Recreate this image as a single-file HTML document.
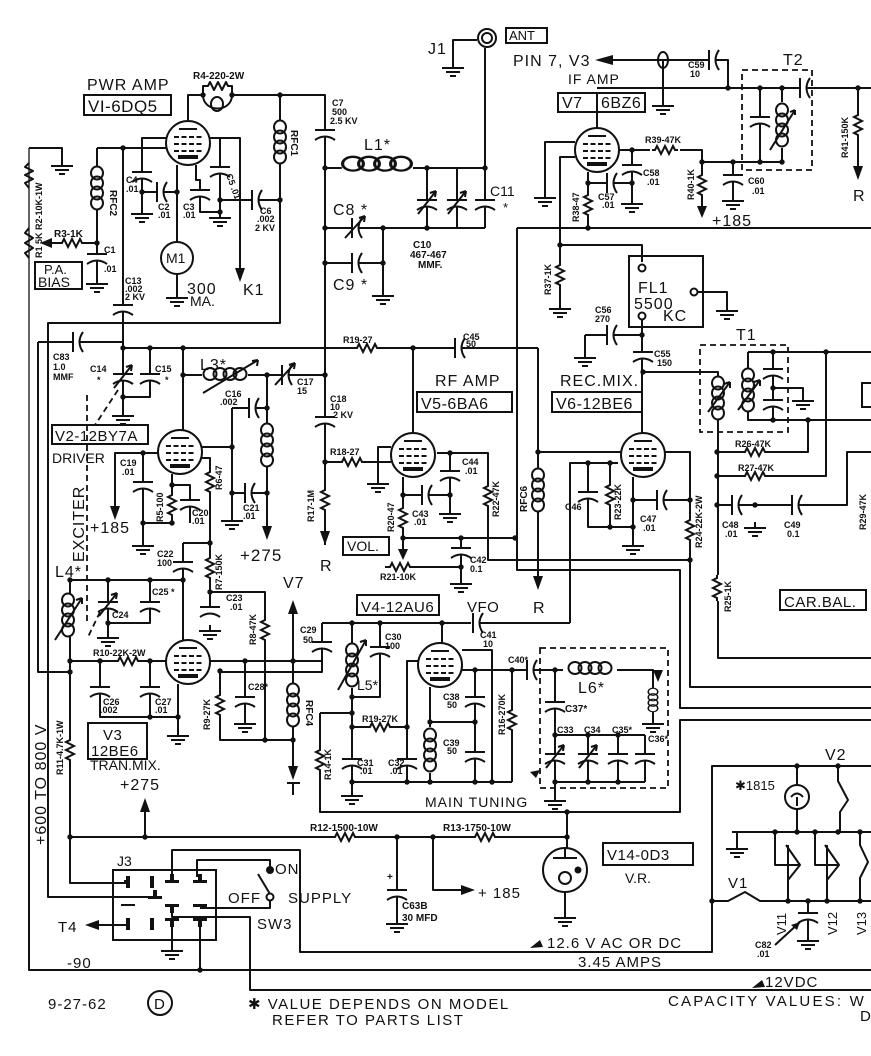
<!DOCTYPE html>
<html><head><meta charset="utf-8">
<style>
html,body{margin:0;padding:0;background:#fff}
svg{display:block}
text{font-family:"Liberation Sans",sans-serif;fill:#111}
.L{font-size:16px;letter-spacing:1px}
.B{font-size:16px;letter-spacing:.5px}
.M{font-size:13px}
.S{font-size:9px;font-weight:bold}
.T{font-size:10px;font-weight:bold}
</style></head>
<body>
<svg width="871" height="1056" viewBox="0 0 871 1056" xmlns="http://www.w3.org/2000/svg">
<defs>
 <g id="gnd"><path d="M0,0V6M-11,6H11M-7,10H7M-3,14H3"/></g>
 <g id="rh"><rect x="-13" y="-5" width="26" height="10" fill="#fff" stroke="none"/><path d="M-13,0H-10L-8,-4L-4,4L0,-4L4,4L8,-4L10,0H13"/></g>
 <g id="rv"><rect x="-5" y="-13" width="10" height="26" fill="#fff" stroke="none"/><path d="M0,-13V-10L-4,-8L4,-4L-4,0L4,4L-4,8L0,10V13"/></g>
 <g id="cv"><rect x="-11" y="-3" width="22" height="6.5" fill="#fff" stroke="none"/><path d="M-10,-3H10M-10,7Q0,0 10,7"/></g>
 <g id="ch"><rect x="-3" y="-11" width="6.5" height="22" fill="#fff" stroke="none"/><path d="M-3,-10V10M7,-10Q0,0 7,10"/></g>
 <g id="cvv"><use href="#cv"/><path d="M-9,11L9,-12M9,-12l-6,2M9,-12l-1,6"/></g>
 <g id="chv"><use href="#ch"/><path d="M-10,10L10,-12M10,-12l-6,2M10,-12l-1,6"/></g>
 <g id="lv"><rect x="-8" y="-22" width="16" height="44" fill="#fff" stroke="none"/><ellipse cx="0" cy="-15" rx="6" ry="6.5"/><ellipse cx="0" cy="-5" rx="6" ry="6.5"/><ellipse cx="0" cy="5" rx="6" ry="6.5"/><ellipse cx="0" cy="15" rx="6" ry="6.5"/></g>
 <g id="lh"><rect x="-22" y="-9" width="44" height="13" fill="#fff" stroke="none"/><ellipse cx="-15" cy="-2" rx="6.5" ry="6"/><ellipse cx="-5" cy="-2" rx="6.5" ry="6"/><ellipse cx="5" cy="-2" rx="6.5" ry="6"/><ellipse cx="15" cy="-2" rx="6.5" ry="6"/></g>
 <g id="tube"><circle r="22" fill="#fff"/><path d="M-9,-14H9"/><path d="M-14,-6H14M-14,1H14M-14,8H14" stroke-dasharray="5,2.5"/><path d="M-10,14H10" stroke-width="4"/></g>
 <circle id="d" r="2.7" fill="#111" stroke="none"/>
</defs>

<!-- WIRES -->
<g stroke="#111" stroke-width="2" fill="none" stroke-linejoin="round">
 <!-- PWR AMP -->
 <path d="M188,121V95H203"/>
 <path d="M203,95V86H208l2,-4l4,8l4,-8l4,8l4,-8l2,4H232V95"/>
 <path d="M203,95C203,113 232,113 232,95"/>
 <ellipse cx="217" cy="104" rx="6" ry="7"/>
 <path d="M232,95H325V545"/>
 <path d="M280,95V120M280,164V323H48V897H155"/>
 <path d="M97,148H166M97,148V166M97,210V278"/>
 <path d="M48,243H97"/>
 <path d="M166,138H142V208M142,192H177"/>
 <path d="M177,165V242M177,274V292"/>
 <path d="M196,165V180H200V212H220"/>
 <path d="M210,138H240V268M220,138V212M220,200H280"/>
 <path d="M29,148H62V160"/>
 <path d="M123,148V348"/>
 <!-- L1 / C8..C11 / ANT -->
 <path d="M325,168H342M413,168H485"/>
 <path d="M325,228H485M325,263H383M383,228V290"/>
 <path d="M427,168V228M457,168V228M485,168V228"/>
 <path d="M485,168V48M453,62V40H477"/>
 <!-- IF AMP -->
 <path d="M613,60H708M716,60H728V88M663,60V100"/>
 <path d="M597,88H871M597,112V128"/>
 <path d="M760,88V162M782,88V102M782,148V162M700,162H783"/>
 <path d="M858,88V166"/>
 <path d="M575,142H545V192M575,157H560V245H642V262"/>
 <path d="M619,150H650M680,150H702V207"/>
 <path d="M632,150V198M588,172V228M588,183H632M733,162V195"/>
 <path d="M517,228H871M517,228V570H680V708H871"/>
 <path d="M871,720H680V812H567"/>
 <path d="M560,245V303M698,292H727V305"/>
 <path d="M642,320V433M585,335H642M585,335V352"/>
 <!-- T1 -->
 <path d="M643,372H718V376M718,420V658H871"/>
 <path d="M748,352H871M748,352V368M748,412V420H871"/>
 <path d="M773,352V420M773,388H803V395"/>
 <path d="M717,452H808V420M717,476H826V352M717,505H847V452H871"/>
 <!-- REC MIX -->
 <path d="M621,452H538M538,348V468M538,512V578"/>
 <path d="M618,463H570V623M588,463V527H633M610,463V527"/>
 <path d="M633,477V540M633,500H690M665,452H690V687H871"/>
 <path d="M403,538H517"/>
 <!-- RF AMP -->
 <path d="M413,348V433M391,447H378V478M323,462H391"/>
 <path d="M403,477V538M403,495H450M437,453H488V560H690M450,453V512"/>
 <path d="M403,538V552M385,567H461M461,538V578"/>
 <!-- DRIVER -->
 <path d="M123,348H538"/>
 <path d="M123,348V397H150V348M123,397V410"/>
 <path d="M183,348V430M183,375H202M248,375H325"/>
 <path d="M267,375V423M267,467V528M232,408H267M232,408V515M202,447H232M232,493H267"/>
 <path d="M158,453H115V508M143,453V540M143,523H172M172,474V523M172,485H190V523"/>
 <path d="M200,458H210V610M183,543H210M183,543V640"/>
 <path d="M70,580H183M150,580V623H108M108,580V632M210,592H265V740"/>
 <!-- V3 -->
 <path d="M70,580V593M70,637V883H128"/>
 <path d="M38,342H123M38,342V672H70"/>
 <path d="M70,661H166M100,661V717H178M150,661V717M178,684V730"/>
 <path d="M210,661H322M322,623V672H220M220,671V740H293M245,661V718"/>
 <path d="M293,612V683M293,727V770M287,783H300M293,783V795"/>
 <!-- VFO -->
 <path d="M322,623H471M480,623H570M442,623V643"/>
 <path d="M352,623V643M352,688V790M380,623V697H352"/>
 <path d="M320,713H352M320,713V812H567M352,727H407M418,661H407V782M352,782H512"/>
 <path d="M430,687V727M430,773V782M430,722H475"/>
 <path d="M462,650H492V782M462,670H526M475,670V782M512,670V782"/>
 <path d="M534,670H563M617,670H653V688M653,712V718"/>
 <path d="M555,670V795M555,735H645M555,782H645M588,735V782M618,735V782M645,735V782"/>
 <!-- supply -->
 <path d="M567,812V848M433,837H567M70,837H433M433,837V890H463M145,837V812"/>
 <path d="M397,837V918M565,892V912"/>
 <path d="M128,925H98M172,927V945M200,927V970"/>
 <path d="M172,877V850H300V952H712V766H871"/>
 <path d="M197,877V860H270V867M270,900V908H200"/>
 <path d="M172,912V917H250V990H871"/>
 <path d="M29,600V970H871"/>
 <path d="M29,148V600" stroke-width="1.3"/>
 <!-- right bottom -->
 <path d="M797,766V785M797,809V832"/>
 <path d="M838,766V781L848,800L840,812V832"/>
 <path d="M732,832H871M737,832V847"/>
 <path d="M712,901H728L745,892L760,901H871"/>
 <path d="M775,832V865H800M786,845L800,865L788,880M788,845V901"/>
 <path d="M815,832V865H838M825,845L839,865L827,880M827,845V901"/>
 <path d="M860,832V845L868,862L860,878V901M808,901V937"/>
 <path d="M775,945L800,922"/>
 <!-- R1/R2 zigzags on left -->
 <path d="M29,163L25,167L33,171L25,175L33,179L25,183L29,188"/>
 <path d="M29,228L25,233L33,238L25,243L33,248L25,253L29,258"/>
</g>

<!-- DASHED -->
<g stroke="#111" stroke-width="1.8" fill="none" stroke-dasharray="6,4">
 <rect x="742" y="70" width="70" height="100"/>
 <rect x="700" y="345" width="88" height="87"/>
 <rect x="540" y="648" width="128" height="140"/>
 <path d="M87,395V625"/>
 <path d="M118,390L95,425"/>
 <path d="M100,612L88,637"/>
</g>

<!-- COMPONENTS -->
<g stroke="#111" stroke-width="2" fill="none">
 <use href="#tube" x="188" y="143"/>
 <use href="#tube" x="597" y="150"/>
 <use href="#tube" x="180" y="452"/>
 <use href="#tube" x="413" y="455"/>
 <use href="#tube" x="643" y="455"/>
 <use href="#tube" x="188" y="662"/>
 <use href="#tube" x="440" y="665"/>
 <circle cx="177" cy="258" r="16" fill="#fff"/>
 <circle cx="565" cy="870" r="22" fill="#fff"/>
 <path d="M553,858H577M565,848V858"/>
 <circle cx="565" cy="878" r="6"/>
 <circle cx="797" cy="797" r="12" fill="#fff"/>
 <path d="M791,797Q797,790 803,797M797,797V806"/>
 <circle cx="487" cy="38" r="9"/><circle cx="487" cy="38" r="5"/>
 <ellipse cx="663" cy="60" rx="5" ry="8"/>
 <rect x="629" y="256" width="74" height="71"/>
 <circle cx="642" cy="268" r="3.5" fill="#fff"/>
 <circle cx="642" cy="316" r="3.5" fill="#fff"/>
 <circle cx="694" cy="292" r="3.5" fill="#fff"/>
 <rect x="113" y="870" width="103" height="70"/>
 <circle cx="270" cy="870" r="3" fill="#111"/>
 <circle cx="270" cy="897" r="3.5" fill="#fff"/>
 <path d="M270,894L258,874"/>
 <circle cx="160" cy="1003" r="12"/>
 <!-- resistors -->
 <use href="#rh" x="72" y="243"/>
 <use href="#rh" x="665" y="150"/>
 <use href="#rv" x="858" y="125"/>
 <use href="#rv" x="702" y="185"/>
 <use href="#rv" x="588" y="205"/>
 <use href="#rv" x="560" y="275"/>
 <use href="#rh" x="367" y="348"/>
 <use href="#rh" x="352" y="462"/>
 <use href="#rv" x="325" y="500"/>
 <use href="#rv" x="403" y="518"/>
 <use href="#rh" x="400" y="567"/>
 <use href="#rv" x="488" y="496"/>
 <use href="#rv" x="610" y="495"/>
 <use href="#rv" x="690" y="530"/>
 <use href="#rh" x="755" y="452"/>
 <use href="#rh" x="755" y="476"/>
 <use href="#rv" x="717" y="588"/>
 <use href="#rv" x="172" y="505"/>
 <use href="#rv" x="210" y="482"/>
 <use href="#rv" x="210" y="568"/>
 <use href="#rv" x="265" y="630"/>
 <use href="#rh" x="128" y="661"/>
 <use href="#rv" x="70" y="750"/>
 <use href="#rv" x="220" y="705"/>
 <use href="#rh" x="380" y="727"/>
 <use href="#rv" x="320" y="760"/>
 <use href="#rv" x="512" y="720"/>
 <use href="#rh" x="345" y="837"/>
 <use href="#rh" x="485" y="837"/>
 <!-- capacitors -->
 <use href="#cv" x="142" y="175"/>
 <use href="#ch" x="160" y="192"/>
 <use href="#cv" x="200" y="193"/>
 <use href="#cv" x="220" y="170"/>
 <use href="#ch" x="255" y="200"/>
 <use href="#cv" x="97" y="257"/>
 <use href="#cv" x="123" y="308"/>
 <use href="#cv" x="325" y="133"/>
 <use href="#chv" x="355" y="228"/>
 <use href="#ch" x="355" y="263"/>
 <use href="#cvv" x="427" y="203"/>
 <use href="#cvv" x="457" y="203"/>
 <use href="#cv" x="485" y="203"/>
 <use href="#ch" x="712" y="60"/>
 <use href="#cv" x="760" y="120"/>
 <use href="#ch" x="803" y="88"/>
 <use href="#cv" x="632" y="168"/>
 <use href="#ch" x="610" y="183"/>
 <use href="#cv" x="733" y="178"/>
 <use href="#ch" x="610" y="335"/>
 <use href="#cv" x="643" y="355"/>
 <use href="#cv" x="773" y="372"/>
 <use href="#cv" x="773" y="403"/>
 <use href="#ch" x="458" y="348"/>
 <use href="#cvv" x="123" y="377"/>
 <use href="#cv" x="150" y="377"/>
 <use href="#chv" x="285" y="375"/>
 <use href="#ch" x="252" y="408"/>
 <use href="#ch" x="248" y="493"/>
 <use href="#cv" x="325" y="420"/>
 <use href="#cv" x="143" y="485"/>
 <use href="#cv" x="190" y="503"/>
 <use href="#cv" x="450" y="474"/>
 <use href="#ch" x="425" y="495"/>
 <use href="#cv" x="461" y="551"/>
 <use href="#cv" x="588" y="495"/>
 <use href="#ch" x="660" y="500"/>
 <use href="#ch" x="735" y="505"/>
 <use href="#ch" x="795" y="505"/>
 <use href="#cv" x="183" y="565"/>
 <use href="#cv" x="210" y="610"/>
 <use href="#cvv" x="108" y="605"/>
 <use href="#cv" x="150" y="605"/>
 <use href="#ch" x="76" y="342"/>
 <use href="#cv" x="100" y="690"/>
 <use href="#cv" x="150" y="690"/>
 <use href="#cv" x="245" y="700"/>
 <use href="#cv" x="322" y="645"/>
 <use href="#cv" x="380" y="650"/>
 <use href="#ch" x="476" y="623"/>
 <use href="#cv" x="352" y="762"/>
 <use href="#cv" x="407" y="762"/>
 <use href="#cv" x="475" y="700"/>
 <use href="#cv" x="475" y="755"/>
 <use href="#ch" x="530" y="670"/>
 <use href="#cv" x="555" y="705"/>
 <use href="#cvv" x="555" y="757"/>
 <use href="#cvv" x="588" y="757"/>
 <use href="#cv" x="618" y="757"/>
 <use href="#cv" x="645" y="757"/>
 <use href="#cv" x="397" y="893"/>
 <use href="#cv" x="808" y="916"/>
 <!-- coils -->
 <use href="#lv" x="280" y="142"/>
 <use href="#lv" x="97" y="188"/>
 <g transform="translate(377,166) scale(1.6,1.15)"><use href="#lh"/></g>
 <use href="#lv" x="782" y="125"/>
 <path d="M770,150L795,110M795,110l-5,2M795,110l0,5"/>
 <use href="#lv" x="718" y="398"/>
 <use href="#lv" x="748" y="390"/>
 <path d="M708,412L730,382M738,410L760,380M760,380l-6,2M760,380l0,6M730,382l-6,2M730,382l0,6"/>
 <use href="#lh" x="225" y="376"/>
 <path d="M203,393L258,360M258,360l-6,1M258,360l-1,6"/>
 <use href="#lv" x="267" y="445"/>
 <use href="#lv" x="538" y="490"/>
 <use href="#lv" x="68" y="615"/>
 <path d="M55,640L82,598M82,598l-6,2M82,598l0,6"/>
 <use href="#lv" x="293" y="705"/>
 <use href="#lv" x="352" y="665"/>
 <path d="M338,690L366,640M366,640l-6,2M366,640l0,6"/>
 <use href="#lv" x="430" y="750"/>
 <use href="#lh" x="590" y="670"/>
 <g transform="translate(653,700) scale(0.8,0.55)"><use href="#lv"/></g>
 <!-- grounds -->
 <use href="#gnd" x="142" y="208"/>
 <use href="#gnd" x="220" y="212"/>
 <use href="#gnd" x="177" y="292"/>
 <use href="#gnd" x="97" y="278"/>
 <use href="#gnd" x="62" y="160"/>
 <use href="#gnd" x="383" y="290"/>
 <use href="#gnd" x="453" y="62"/>
 <use href="#gnd" x="663" y="100"/>
 <use href="#gnd" x="545" y="192"/>
 <use href="#gnd" x="632" y="198"/>
 <use href="#gnd" x="733" y="195"/>
 <use href="#gnd" x="560" y="303"/>
 <use href="#gnd" x="727" y="305"/>
 <use href="#gnd" x="585" y="352"/>
 <use href="#gnd" x="803" y="395"/>
 <use href="#gnd" x="123" y="410"/>
 <use href="#gnd" x="232" y="515"/>
 <use href="#gnd" x="143" y="540"/>
 <use href="#gnd" x="378" y="478"/>
 <use href="#gnd" x="450" y="508"/>
 <use href="#gnd" x="461" y="578"/>
 <use href="#gnd" x="633" y="540"/>
 <use href="#gnd" x="755" y="522"/>
 <use href="#gnd" x="210" y="625"/>
 <use href="#gnd" x="108" y="632"/>
 <use href="#gnd" x="178" y="730"/>
 <use href="#gnd" x="245" y="718"/>
 <use href="#gnd" x="352" y="790"/>
 <use href="#gnd" x="653" y="718"/>
 <use href="#gnd" x="555" y="795"/>
 <use href="#gnd" x="397" y="918"/>
 <use href="#gnd" x="565" y="912"/>
 <use href="#gnd" x="172" y="945"/>
 <use href="#gnd" x="737" y="843"/>
 <use href="#gnd" x="808" y="935"/>
 <!-- boxes -->
 <rect x="84" y="95" width="87" height="20"/>
 <rect x="506" y="28" width="41" height="15"/>
 <rect x="558" y="93" width="87" height="19"/><path d="M597,93V112"/>
 <rect x="35" y="262" width="47" height="27"/>
 <rect x="417" y="392" width="95" height="20"/>
 <rect x="552" y="392" width="90" height="20"/>
 <rect x="52" y="425" width="96" height="19"/>
 <rect x="343" y="537" width="46" height="18"/>
 <rect x="780" y="590" width="86" height="20"/>
 <rect x="862" y="383" width="20" height="24"/>
 <rect x="357" y="595" width="82" height="20"/>
 <rect x="88" y="723" width="59" height="36"/>
 <rect x="603" y="843" width="90" height="22"/>
</g>

<!-- J3 contacts and arrows -->
<g fill="#111" stroke="none">
 <path d="M240,282L235,268L245,268Z"/>
 <path d="M40,243L52,238L52,248Z"/>
 <path d="M595,60L613,55L613,65Z"/>
 <path d="M858,180L853,166L863,166Z"/>
 <path d="M702,218L697,206L707,206Z"/>
 <path d="M115,520L110,506L120,506Z"/>
 <path d="M267,540L262,526L272,526Z"/>
 <path d="M325,545L320,531L330,531Z"/>
 <path d="M538,590L533,576L543,576Z"/>
 <path d="M403,560L398,549L408,549Z"/>
 <path d="M293,600L288,614L298,614Z"/>
 <path d="M293,780L288,766L298,766Z"/>
 <path d="M145,798L140,812L150,812Z"/>
 <path d="M475,890L461,885L461,895Z"/>
 <path d="M85,925L99,920L99,930Z"/>
 <path d="M658,682L653,670L663,670Z"/>
 <path d="M540,770L530,772L536,778Z"/>
 <path d="M530,948L540,940L543,947Z"/>
 <path d="M752,988L762,980L765,987Z"/>
 <path d="M800,922L791,925L797,930Z"/>
 <path d="M126,876h4v12h-4zM124,880h2v4h-2z"/>
 <path d="M150,876h4v12h-4z"/>
 <path d="M165,880h14v3h-14zM170,874h4v6h-4z"/>
 <path d="M193,880h14v3h-14zM198,874h4v6h-4z"/>
 <path d="M148,896h14v3h-14zM153,890h4v6h-4z"/>
 <path d="M165,904h14v3h-14zM170,907h4v6h-4z"/>
 <path d="M193,904h14v3h-14z"/>
 <path d="M121,904h14v2h-14z"/>
 <path d="M126,918h4v12h-4zM150,918h4v12h-4z"/>
 <path d="M165,918h14v3h-14zM170,921h4v6h-4z"/>
 <path d="M193,918h14v3h-14zM198,921h4v6h-4z"/>
 <circle cx="578" cy="870" r="3.5"/>
</g>

<!-- DOTS -->
<g>
 <use href="#d" x="203" y="95"/><use href="#d" x="232" y="95"/><use href="#d" x="280" y="95"/>
 <use href="#d" x="123" y="148"/><use href="#d" x="142" y="192"/><use href="#d" x="177" y="192"/>
 <use href="#d" x="220" y="200"/><use href="#d" x="220" y="212"/><use href="#d" x="280" y="200"/>
 <use href="#d" x="97" y="243"/><use href="#d" x="325" y="168"/><use href="#d" x="427" y="168"/>
 <use href="#d" x="485" y="168"/><use href="#d" x="325" y="228"/><use href="#d" x="383" y="228"/>
 <use href="#d" x="427" y="228"/><use href="#d" x="325" y="263"/><use href="#d" x="383" y="263"/>
 <use href="#d" x="728" y="88"/><use href="#d" x="760" y="88"/><use href="#d" x="782" y="88"/>
 <use href="#d" x="858" y="88"/><use href="#d" x="733" y="162"/><use href="#d" x="760" y="162"/>
 <use href="#d" x="782" y="162"/><use href="#d" x="702" y="162"/><use href="#d" x="632" y="150"/>
 <use href="#d" x="632" y="183"/><use href="#d" x="588" y="183"/><use href="#d" x="588" y="228"/>
 <use href="#d" x="560" y="245"/><use href="#d" x="642" y="335"/><use href="#d" x="643" y="372"/>
 <use href="#d" x="773" y="352"/><use href="#d" x="826" y="352"/><use href="#d" x="773" y="388"/>
 <use href="#d" x="773" y="420"/><use href="#d" x="808" y="420"/><use href="#d" x="717" y="452"/>
 <use href="#d" x="717" y="476"/><use href="#d" x="717" y="505"/><use href="#d" x="755" y="505"/>
 <use href="#d" x="538" y="452"/><use href="#d" x="588" y="463"/><use href="#d" x="610" y="463"/>
 <use href="#d" x="610" y="527"/><use href="#d" x="633" y="527"/><use href="#d" x="633" y="500"/>
 <use href="#d" x="690" y="500"/><use href="#d" x="690" y="560"/><use href="#d" x="515" y="538"/>
 <use href="#d" x="461" y="538"/><use href="#d" x="461" y="567"/><use href="#d" x="403" y="495"/>
 <use href="#d" x="403" y="538"/><use href="#d" x="450" y="453"/><use href="#d" x="450" y="495"/>
 <use href="#d" x="413" y="348"/><use href="#d" x="325" y="375"/><use href="#d" x="325" y="462"/>
 <use href="#d" x="123" y="348"/><use href="#d" x="150" y="348"/><use href="#d" x="183" y="348"/>
 <use href="#d" x="123" y="397"/><use href="#d" x="183" y="375"/><use href="#d" x="267" y="375"/>
 <use href="#d" x="267" y="408"/><use href="#d" x="232" y="447"/><use href="#d" x="267" y="493"/>
 <use href="#d" x="232" y="493"/><use href="#d" x="143" y="453"/><use href="#d" x="143" y="523"/>
 <use href="#d" x="172" y="485"/><use href="#d" x="172" y="523"/><use href="#d" x="210" y="543"/>
 <use href="#d" x="210" y="592"/><use href="#d" x="183" y="580"/><use href="#d" x="70" y="580"/>
 <use href="#d" x="108" y="580"/><use href="#d" x="150" y="580"/><use href="#d" x="108" y="623"/>
 <use href="#d" x="70" y="661"/><use href="#d" x="70" y="672"/><use href="#d" x="100" y="661"/>
 <use href="#d" x="150" y="661"/><use href="#d" x="150" y="717"/><use href="#d" x="178" y="717"/>
 <use href="#d" x="245" y="661"/><use href="#d" x="293" y="661"/><use href="#d" x="220" y="671"/>
 <use href="#d" x="265" y="740"/><use href="#d" x="293" y="740"/>
 <use href="#d" x="352" y="623"/><use href="#d" x="380" y="623"/><use href="#d" x="442" y="623"/>
 <use href="#d" x="352" y="697"/><use href="#d" x="352" y="713"/><use href="#d" x="352" y="727"/>
 <use href="#d" x="407" y="727"/><use href="#d" x="352" y="782"/><use href="#d" x="407" y="782"/>
 <use href="#d" x="430" y="722"/><use href="#d" x="475" y="722"/><use href="#d" x="430" y="782"/>
 <use href="#d" x="475" y="782"/><use href="#d" x="492" y="782"/><use href="#d" x="475" y="670"/>
 <use href="#d" x="512" y="670"/><use href="#d" x="555" y="670"/><use href="#d" x="555" y="735"/>
 <use href="#d" x="588" y="735"/><use href="#d" x="618" y="735"/><use href="#d" x="555" y="782"/>
 <use href="#d" x="588" y="782"/><use href="#d" x="618" y="782"/>
 <use href="#d" x="567" y="812"/><use href="#d" x="567" y="837"/><use href="#d" x="433" y="837"/>
 <use href="#d" x="397" y="837"/><use href="#d" x="145" y="837"/><use href="#d" x="70" y="837"/>
 <use href="#d" x="200" y="970"/><use href="#d" x="712" y="901"/><use href="#d" x="797" y="766"/>
 <use href="#d" x="838" y="766"/><use href="#d" x="775" y="832"/><use href="#d" x="797" y="832"/>
 <use href="#d" x="815" y="832"/><use href="#d" x="838" y="832"/><use href="#d" x="860" y="832"/>
 <use href="#d" x="788" y="901"/><use href="#d" x="808" y="901"/><use href="#d" x="827" y="901"/>
 <use href="#d" x="860" y="901"/>
</g>

<!-- TEXT -->
<g>
 <text x="87" y="90" class="L">PWR AMP</text>
 <text x="88" y="112" class="B" style="font-size:17px">VI-6DQ5</text>
 <text x="193" y="79" class="T">R4-220-2W</text>
 <text x="332" y="106" class="S">C7</text><text x="332" y="115" class="S">500</text><text x="330" y="124" class="S">2.5 KV</text>
 <text class="T" transform="translate(291,130) rotate(90)">RFC1</text>
 <text x="126" y="183" class="S">C4</text><text x="126" y="192" class="S">.01</text>
 <text x="158" y="210" class="S">C2</text><text x="158" y="218" class="S">.01</text>
 <text x="183" y="210" class="S">C3</text><text x="183" y="218" class="S">.01</text>
 <text class="S" transform="translate(226,175) rotate(70)">C5 .01</text>
 <text x="260" y="214" class="S">C6</text><text x="257" y="222" class="S">.002</text><text x="255" y="231" class="S">2 KV</text>
 <text x="166" y="263" class="M" style="font-size:14px">M1</text>
 <text x="187" y="294" class="L">300</text><text x="190" y="306" class="M" style="font-size:14px">MA.</text>
 <text x="243" y="295" class="L">K1</text>
 <text class="T" transform="translate(110,190) rotate(90)">RFC2</text>
 <text x="54" y="237" class="T">R3-1K</text>
 <text x="104" y="253" class="S">C1</text><text x="104" y="272" class="S">.01</text>
 <text x="44" y="274" class="M" style="font-size:13px">P.A.</text><text x="38" y="287" class="M" style="font-size:14px">BIAS</text>
 <text x="125" y="284" class="S">C13</text><text x="125" y="292" class="S">.002</text><text x="125" y="300" class="S">2 KV</text>
 <text class="S" transform="translate(42,258) rotate(-90)">R1 5K  R2-10K-1W</text>
 <text x="364" y="150" class="L">L1*</text>
 <text x="333" y="215" class="L">C8 *</text>
 <text x="333" y="290" class="L">C9 *</text>
 <text x="413" y="248" class="T">C10</text><text x="410" y="258" class="T">467-467</text><text x="418" y="268" class="T">MMF.</text>
 <text x="490" y="196" class="M" style="font-size:14px">C11</text><text x="503" y="212" class="M">*</text>
 <text x="428" y="54" class="L">J1</text>
 <text x="509" y="40" class="M">ANT</text>
 <text x="513" y="66" class="L">PIN 7, V3</text>
 <text x="568" y="84" class="M" style="font-size:14px;letter-spacing:1px">IF AMP</text>
 <text x="562" y="108" class="B">V7</text><text x="601" y="108" class="B">6BZ6</text>
 <text x="688" y="68" class="S">C59</text><text x="690" y="77" class="S">10</text>
 <text x="783" y="65" class="L">T2</text>
 <text x="645" y="143" class="S">R39-47K</text>
 <text x="643" y="176" class="S">C58</text><text x="647" y="185" class="S">.01</text>
 <text x="598" y="200" class="S">C57</text><text x="602" y="208" class="S">.01</text>
 <text class="S" transform="translate(579,222) rotate(-90)">R38-47</text>
 <text class="S" transform="translate(694,200) rotate(-90)">R40-1K</text>
 <text x="712" y="226" class="L">+185</text>
 <text x="748" y="184" class="S">C60</text><text x="752" y="194" class="S">.01</text>
 <text class="S" transform="translate(848,158) rotate(-90)">R41-150K</text>
 <text x="853" y="201" class="L">R</text>
 <text class="S" transform="translate(551,295) rotate(-90)">R37-1K</text>
 <text x="638" y="293" class="L">FL1</text><text x="634" y="309" class="L">5500</text><text x="663" y="321" class="L">KC</text>
 <text x="595" y="313" class="S">C56</text><text x="595" y="322" class="S">270</text>
 <text x="736" y="340" class="L">T1</text>
 <text x="654" y="357" class="S">C55</text><text x="657" y="366" class="S">150</text>
 <text x="435" y="386" class="L">RF AMP</text>
 <text x="421" y="409" class="B">V5-6BA6</text>
 <text x="560" y="386" class="L">REC.MIX.</text>
 <text x="556" y="409" class="B">V6-12BE6</text>
 <text x="343" y="343" class="S">R19-27</text>
 <text x="463" y="340" class="S">C45</text><text x="466" y="347" class="S">50</text>
 <text x="200" y="370" class="L">L3*</text>
 <text x="90" y="372" class="S">C14</text><text x="97" y="383" class="S">*</text>
 <text x="155" y="372" class="S">C15</text><text x="165" y="383" class="S">*</text>
 <text x="53" y="360" class="S">C83</text><text x="53" y="370" class="S">1.0</text><text x="53" y="380" class="S">MMF</text>
 <text x="225" y="397" class="S">C16</text><text x="220" y="405" class="S">.002</text>
 <text x="297" y="385" class="S">C17</text><text x="297" y="394" class="S">15</text>
 <text x="330" y="402" class="S">C18</text><text x="330" y="410" class="S">10</text><text x="333" y="418" class="S">2 KV</text>
 <text x="55" y="441" class="B" style="font-size:15px">V2-12BY7A</text>
 <text x="52" y="463" class="M" style="font-size:14px">DRIVER</text>
 <text x="120" y="466" class="S">C19</text><text x="122" y="475" class="S">.01</text>
 <text x="90" y="533" class="L">+185</text>
 <text class="S" transform="translate(163,522) rotate(-90)">R5-100</text>
 <text x="192" y="516" class="S">C20</text><text x="192" y="524" class="S">.01</text>
 <text class="S" transform="translate(222,490) rotate(-90)">R6-47</text>
 <text x="243" y="511" class="S">C21</text><text x="243" y="519" class="S">.01</text>
 <text x="240" y="561" class="L" style="font-size:17px">+275</text>
 <text class="S" transform="translate(314,522) rotate(-90)">R17-1M</text>
 <text x="320" y="571" class="L">R</text>
 <text x="330" y="455" class="S">R18-27</text>
 <text class="S" transform="translate(394,532) rotate(-90)">R20-47</text>
 <text x="412" y="517" class="S">C43</text><text x="414" y="525" class="S">.01</text>
 <text x="462" y="465" class="S">C44</text><text x="465" y="474" class="S">.01</text>
 <text class="S" transform="translate(499,517) rotate(-90)">R22-47K</text>
 <text x="347" y="551" class="M" style="font-size:14px">VOL.</text>
 <text x="380" y="580" class="S">R21-10K</text>
 <text x="470" y="563" class="S">C42</text><text x="470" y="572" class="S">0.1</text>
 <text class="T" transform="translate(527,512) rotate(-90)">RFC6</text>
 <text x="533" y="613" class="L">R</text>
 <text x="565" y="510" class="S">C46</text>
 <text class="S" transform="translate(621,520) rotate(-90)">R23-22K</text>
 <text x="640" y="522" class="S">C47</text><text x="643" y="531" class="S">.01</text>
 <text class="S" transform="translate(702,548) rotate(-90)">R24-22K-2W</text>
 <text x="735" y="447" class="S">R26-47K</text><text x="738" y="471" class="S">R27-47K</text>
 <text x="722" y="528" class="S">C48</text><text x="725" y="537" class="S">.01</text>
 <text x="784" y="528" class="S">C49</text><text x="787" y="537" class="S">0.1</text>
 <text class="S" transform="translate(866,530) rotate(-90)">R29-47K</text>
 <text class="S" transform="translate(731,612) rotate(-90)">R25-1K</text>
 <text x="784" y="607" class="B" style="font-size:15px">CAR.BAL.</text>
 <text class="L" transform="translate(84,562) rotate(-90)">EXCITER</text>
 <text x="55" y="577" class="L">L4*</text>
 <text x="157" y="557" class="S">C22</text><text x="157" y="566" class="S">100</text>
 <text class="S" transform="translate(222,590) rotate(-90)">R7-150K</text>
 <text x="226" y="601" class="S">C23</text><text x="230" y="610" class="S">.01</text>
 <text x="112" y="618" class="S">C24</text><text x="152" y="595" class="S">C25 *</text>
 <text class="S" transform="translate(256,645) rotate(-90)">R8-47K</text>
 <text x="283" y="588" class="L">V7</text>
 <text x="361" y="612" class="B" style="font-size:15px">V4-12AU6</text>
 <text x="467" y="612" class="B" style="font-size:15px">VFO</text>
 <text x="300" y="633" class="S">C29</text><text x="303" y="643" class="S">50</text>
 <text x="385" y="640" class="S">C30</text><text x="385" y="649" class="S">100</text>
 <text x="357" y="690" class="M" style="font-size:14px">L5*</text>
 <text x="480" y="638" class="S">C41</text><text x="483" y="647" class="S">10</text>
 <text x="93" y="656" class="S">R10-22K-2W</text>
 <text x="103" y="705" class="S">C26</text><text x="100" y="713" class="S">.002</text>
 <text x="155" y="705" class="S">C27</text><text x="155" y="713" class="S">.01</text>
 <text x="103" y="740" class="B" style="font-size:15px">V3</text><text x="91" y="756" class="B" style="font-size:15px">12BE6</text>
 <text x="90" y="770" class="M" style="font-size:14px">TRAN.MIX.</text>
 <text x="120" y="790" class="L">+275</text>
 <text class="S" transform="translate(63,775) rotate(-90)">R11-4.7K-1W</text>
 <text class="L" transform="translate(46,845) rotate(-90)">+600 TO 800 V</text>
 <text class="S" transform="translate(210,730) rotate(-90)">R9-27K</text>
 <text x="248" y="690" class="S">C28*</text>
 <text class="T" transform="translate(306,700) rotate(90)">RFC4</text>
 <text x="362" y="722" class="S">R19-27K</text>
 <text class="S" transform="translate(331,780) rotate(-90)">R14-1K</text>
 <text x="357" y="766" class="S">C31</text><text x="360" y="774" class="S">.01</text>
 <text x="388" y="766" class="S">C32</text><text x="390" y="774" class="S">.01</text>
 <text x="443" y="700" class="S">C38</text><text x="447" y="708" class="S">50</text>
 <text x="443" y="746" class="S">C39</text><text x="447" y="754" class="S">50</text>
 <text class="S" transform="translate(505,735) rotate(-90)">R16-270K</text>
 <text x="508" y="663" class="S">C40*</text>
 <text x="578" y="693" class="L">L6*</text>
 <text x="565" y="712" class="T">C37*</text>
 <text x="557" y="733" class="S">C33</text><text x="584" y="733" class="S">C34</text><text x="612" y="733" class="S">C35*</text><text x="648" y="742" class="S">C36*</text>
 <text x="425" y="807" class="M" style="font-size:14px;letter-spacing:1px">MAIN TUNING</text>
 <text x="310" y="831" class="T">R12-1500-10W</text>
 <text x="443" y="831" class="T">R13-1750-10W</text>
 <text x="117" y="866" class="M" style="font-size:14px">J3</text>
 <text x="275" y="874" class="L" style="font-size:15px">ON</text>
 <text x="228" y="903" class="L" style="font-size:15px">OFF</text>
 <text x="288" y="903" class="L" style="font-size:15px">SUPPLY</text>
 <text x="257" y="929" class="L" style="font-size:15px">SW3</text>
 <text x="58" y="932" class="L" style="font-size:15px">T4</text>
 <text x="67" y="968" class="L" style="font-size:15px">-90</text>
 <text x="387" y="880" class="T">+</text>
 <text x="402" y="909" class="T">C63B</text><text x="402" y="921" class="T">30 MFD</text>
 <text x="478" y="898" class="L" style="font-size:15px">+ 185</text>
 <text x="607" y="860" class="B" style="font-size:15px">V14-0D3</text>
 <text x="625" y="883" class="M" style="font-size:14px">V.R.</text>
 <text x="735" y="790" class="M" style="font-size:13px">✱1815</text>
 <text x="825" y="760" class="L">V2</text>
 <text x="728" y="888" class="L" style="font-size:15px">V1</text>
 <text class="M" transform="translate(786,935) rotate(-90)">V11</text>
 <text class="M" transform="translate(837,935) rotate(-90)">V12</text>
 <text class="M" transform="translate(866,935) rotate(-90)">V13</text>
 <text x="755" y="948" class="S">C82</text><text x="757" y="957" class="S">.01</text>
 <text x="547" y="948" class="L" style="font-size:15px">12.6 V AC OR DC</text>
 <text x="578" y="967" class="L" style="font-size:15px">3.45 AMPS</text>
 <text x="765" y="987" class="L" style="font-size:15px">12VDC</text>
 <text x="48" y="1009" class="L" style="font-size:15px">9-27-62</text>
 <text x="154" y="1009" class="L" style="font-size:15px">D</text>
 <text x="248" y="1009" class="L" style="font-size:15px;letter-spacing:1.5px">✱ VALUE DEPENDS ON MODEL</text>
 <text x="272" y="1025" class="L" style="font-size:15px;letter-spacing:1.5px">REFER TO PARTS LIST</text>
 <text x="668" y="1006" class="L" style="font-size:15px;letter-spacing:2.2px">CAPACITY VALUES:  W</text>
 <text x="860" y="1021" class="L" style="font-size:15px">D</text>
</g>
</svg>
</body></html>
